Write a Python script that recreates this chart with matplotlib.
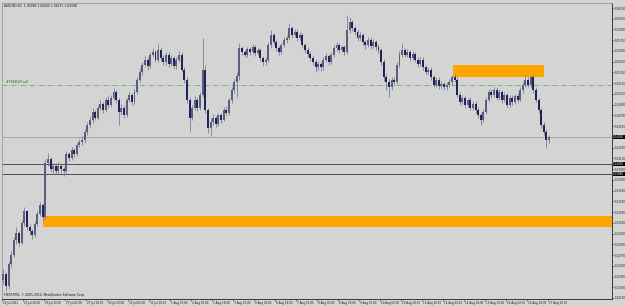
import matplotlib
matplotlib.use("Agg")
import matplotlib.pyplot as plt
import matplotlib.transforms as mtransforms
from matplotlib.patches import Rectangle
import numpy as np

title_text = "AUDUSD,H1  1.04388 1.04400 1.04271 1.04398"
copyright_text = "FXCM-MT4, \u00a9 2001-2012, MetaQuotes Software Corp."

# 2-hour candles, prices in pips above 1.0000
first_open = 240
closes = [248, 232, 262, 275, 296, 306, 292, 320, 336, 314,
          308, 303, 318, 332, 345, 328, 404, 409, 395, 400,
          392, 400, 395, 392, 416, 411, 422, 416, 429, 433,
          436, 447, 457, 464, 475, 467, 481, 486, 478, 492,
          485, 495, 503, 492, 475, 481, 471, 492, 499, 489,
          503, 520, 531, 541, 548, 539, 555, 559, 548, 561,
          550, 545, 555, 542, 550, 539, 548, 555, 534, 520,
          492, 467, 481, 492, 481, 499, 534, 478, 453, 461,
          467, 458, 470, 464, 478, 474, 492, 506, 517, 525,
          564, 559, 555, 563, 559, 566, 557, 561, 550, 545,
          548, 568, 582, 573, 564, 559, 568, 575, 578, 592,
          582, 587, 578, 582, 568, 561, 556, 550, 545, 537,
          542, 537, 548, 553, 545, 555, 564, 568, 561, 566,
          559, 589, 600, 592, 587, 578, 582, 573, 568, 575,
          567, 573, 566, 561, 545, 523, 517, 509, 520, 517,
          541, 555, 561, 555, 559, 550, 556, 548, 542, 548,
          537, 531, 534, 523, 513, 520, 511, 514, 509, 513,
          517, 523, 520, 499, 489, 495, 485, 492, 481, 486,
          478, 471, 464, 475, 492, 503, 499, 506, 495, 503,
          492, 499, 485, 495, 489, 497, 492, 506, 513, 520,
          513, 523, 506, 492, 478, 457, 447, 436, 440]
highs = [256, 252, 266, 281, 300, 314, 308, 324, 342, 338,
         318, 312, 322, 336, 349, 348, 409, 418, 412, 404,
         404, 405, 403, 398, 420, 419, 426, 425, 432, 437,
         441, 451, 461, 469, 480, 478, 485, 492, 489, 496,
         497, 499, 508, 506, 494, 486, 484, 495, 503, 502,
         507, 524, 536, 545, 553, 551, 558, 564, 562, 570,
         565, 555, 559, 558, 554, 553, 551, 560, 558, 538,
         524, 496, 485, 497, 495, 503, 578, 540, 481, 466,
         472, 469, 474, 473, 482, 483, 495, 510, 521, 530,
         571, 567, 562, 566, 565, 570, 569, 565, 564, 553,
         552, 572, 589, 585, 576, 567, 571, 579, 582, 599,
         595, 591, 590, 586, 585, 571, 565, 560, 554, 549,
         546, 545, 551, 557, 556, 558, 568, 573, 571, 569,
         569, 610, 607, 603, 595, 590, 586, 585, 576, 579,
         579, 577, 576, 570, 564, 549, 528, 521, 523, 524,
         545, 560, 571, 564, 563, 562, 560, 559, 552, 551,
         552, 541, 538, 537, 527, 524, 523, 518, 517, 516,
         521, 527, 528, 523, 503, 499, 498, 495, 496, 490,
         490, 482, 474, 479, 496, 507, 507, 510, 509, 507,
         506, 503, 502, 498, 498, 500, 501, 509, 517, 527,
         524, 527, 526, 510, 495, 481, 461, 451, 443]
lows = [234, 225, 228, 258, 272, 290, 288, 290, 316, 310,
        303, 297, 300, 315, 329, 322, 325, 399, 391, 390,
        388, 389, 390, 386, 390, 406, 408, 412, 414, 426,
        428, 432, 443, 452, 460, 463, 464, 477, 474, 475,
        480, 482, 491, 488, 457, 470, 466, 468, 489, 485,
        486, 500, 516, 527, 537, 534, 536, 551, 544, 545,
        546, 540, 541, 538, 539, 535, 535, 545, 530, 515,
        488, 447, 463, 478, 476, 478, 496, 473, 446, 441,
        456, 454, 455, 460, 462, 469, 471, 488, 502, 496,
        520, 554, 551, 552, 555, 556, 553, 554, 546, 539,
        540, 545, 564, 569, 560, 554, 556, 565, 571, 575,
        578, 579, 574, 575, 564, 557, 551, 546, 541, 531,
        533, 532, 534, 544, 541, 542, 552, 560, 557, 558,
        554, 556, 585, 588, 582, 574, 575, 569, 563, 565,
        563, 564, 562, 557, 541, 518, 505, 496, 505, 512,
        514, 537, 551, 551, 552, 546, 547, 544, 538, 539,
        533, 527, 528, 519, 509, 510, 507, 508, 505, 505,
        509, 513, 516, 496, 485, 486, 481, 482, 478, 477,
        474, 467, 456, 461, 472, 489, 495, 496, 491, 492,
        488, 489, 481, 482, 485, 486, 488, 490, 502, 509,
        509, 510, 502, 489, 474, 453, 443, 424, 431]

time_labels = ["25 Jul 2012", "25 Jul 18:00", "26 Jul 10:00", "27 Jul 02:00",
               "27 Jul 18:00", "30 Jul 10:00", "31 Jul 02:00", "31 Jul 18:00",
               "1 Aug 10:00", "2 Aug 02:00", "2 Aug 18:00", "3 Aug 10:00",
               "6 Aug 02:00", "6 Aug 18:00", "7 Aug 10:00", "8 Aug 02:00",
               "8 Aug 18:00", "9 Aug 10:00", "10 Aug 02:00", "10 Aug 18:00",
               "13 Aug 10:00", "14 Aug 02:00", "14 Aug 18:00", "15 Aug 10:00",
               "16 Aug 02:00", "16 Aug 18:00", "17 Aug 10:00"]

level_lines = [1.0402, 1.0388]
order_price = 1.0513
order_label = "#7584529 sell"
# zones: (start hour, end hour, low price, high price)
zone_upper = (344, 413, 1.0524, 1.0540)
zone_lower = (31, 470, 1.0314, 1.0330)

bg = "#d4d4d4"
closes = np.array(closes) / 10000 + 1
highs = np.array(highs) / 10000 + 1
lows = np.array(lows) / 10000 + 1
opens = np.concatenate([[first_open / 10000 + 1], closes[:-1]])
t = np.arange(len(closes)) * 2 + 1

fig = plt.figure(figsize=(6.25, 3.06), dpi=100, facecolor=bg)
ax = fig.add_axes([2 / 625, 7 / 306, 610 / 625, 296 / 306], facecolor=bg)

# zones
for z in (zone_upper, zone_lower):
    ax.add_patch(Rectangle((z[0], z[2]), z[1] - z[0], z[3] - z[2],
                           color="#ffa500", lw=0, zorder=1))

ax.axhline(closes[-1], color="#a0a0a0", lw=0.6, zorder=1)
for lv in level_lines:
    ax.axhline(lv, color="#3a3a3a", lw=0.6, zorder=1)
ax.axhline(order_price, color="#66b266", lw=0.6, ls=(0, (6, 2, 1, 2)), zorder=1)
ax.text(3, order_price + 0.00012, order_label, fontsize=2.2, color="#1e5a1e",
        va="bottom", ha="left")

# candles
up = closes >= opens
ax.vlines(t, lows, highs, color="#7c7c8e", lw=0.6, zorder=2)
body_lo = np.minimum(opens, closes)
body_h = np.maximum(np.abs(closes - opens), 0.00006)
ax.bar(t[up], body_h[up], bottom=body_lo[up], width=1.5, color="#5c5c7c", lw=0, zorder=3)
ax.bar(t[~up], body_h[~up], bottom=body_lo[~up], width=1.5, color="#22225a", lw=0, zorder=3)

ax.set_xlim(0, 465)
ax.set_ylim(1.02136, 1.0627)

ax.set_xticks(np.arange(len(time_labels)) * 16)
ax.set_xticklabels(time_labels, fontsize=2.0, ha="left", color="#202020")
ax.tick_params(axis="x", length=1.2, width=0.4, pad=0.3, color="#303030")
for lab in ax.get_xticklabels():
    lab.set_transform(lab.get_transform() + mtransforms.ScaledTranslation(1 / 100, 0, fig.dpi_scale_trans))

yt = np.round(1.0620 - 0.0015 * np.arange(28), 4)
ax.yaxis.tick_right()
ax.set_yticks(yt)
ax.set_yticklabels(["%.5f" % v for v in yt], fontsize=2.0, color="#202020")
ax.tick_params(axis="y", length=1.2, width=0.4, pad=0.5, color="#303030")

trans = mtransforms.blended_transform_factory(ax.transAxes, ax.transData)
for v in [closes[-1]] + level_lines:
    ax.text(1.002, v, "%.5f" % v, transform=trans, fontsize=2.0, color="white",
            va="center", ha="left", clip_on=False,
            bbox=dict(boxstyle="square,pad=0.12", fc="black", ec="none"))

for side in ("left", "top"):
    ax.spines[side].set_color("#9a9a9a")
    ax.spines[side].set_linewidth(0.6)
for side in ("right", "bottom"):
    ax.spines[side].set_color("#202020")
    ax.spines[side].set_linewidth(0.6)

ax.text(0.004, 0.995, title_text, transform=ax.transAxes, fontsize=2.2,
        va="top", ha="left", color="#101010")
ax.text(0.004, 0.006, copyright_text, transform=ax.transAxes, fontsize=2.2,
        va="bottom", ha="left", color="#101010")

fig.savefig("out.png", dpi=100, facecolor=bg)
